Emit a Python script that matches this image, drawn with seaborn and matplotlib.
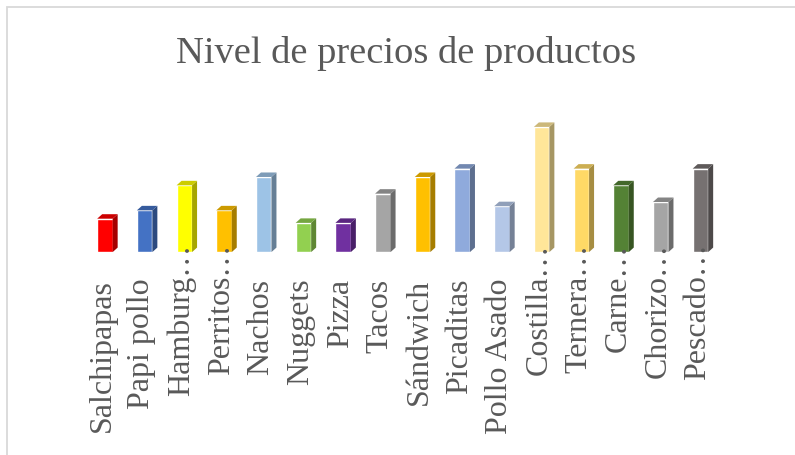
import seaborn as sns
import matplotlib.pyplot as plt
import matplotlib.colors as mcolors
from matplotlib.patches import Polygon, Rectangle

productos = ['Salchipapas', 'Papi pollo', 'Hamburg…', 'Perritos…', 'Nachos',
             'Nuggets', 'Pizza', 'Tacos', 'Sándwich', 'Picaditas', 'Pollo Asado',
             'Costilla…', 'Ternera…', 'Carne…', 'Chorizo…', 'Pescado…']
precios = [4, 5, 8, 5, 9, 3.5, 3.5, 7, 9, 10, 5.5, 15, 10, 8, 6, 10]
colores = ['#FF0000', '#4472C4', '#FFFF00', '#FFC000', '#9DC3E6', '#92D050',
           '#7030A0', '#A5A5A5', '#FFC000', '#8FAADC', '#B4C7E7', '#FFE699',
           '#FFD966', '#548235', '#A5A5A5', '#767171']

sns.set_style("white")
plt.rcParams['font.family'] = ['Liberation Serif', 'DejaVu Serif']

fig = plt.figure(figsize=(7.95, 4.56), dpi=100)
ax = fig.add_axes([0.107, 0.445, 0.799, 0.366])

sns.barplot(x=productos, y=precios, hue=productos, palette=colores,
            legend=False, width=0.39, saturation=1, ax=ax)
ax.set_xlim(-0.5, len(productos) - 0.5)
ax.set_ylim(0, 20)
ax.set_xticks([])
ax.set_yticks([])
ax.set_xlabel('')
ax.set_ylabel('')
sns.despine(ax=ax, left=True, bottom=True)

# efecto 3D: cara lateral y superior
px_x = ax.bbox.width / (len(productos))
px_y = ax.bbox.height / 20
dx = 5 / px_x
dy = 4.5 / px_y
for p, c in zip(list(ax.patches), colores):
    x, w, h = p.get_x(), p.get_width(), p.get_height()
    rgb = mcolors.to_rgb(c)
    lado = tuple(v * 0.65 for v in rgb)
    tapa = tuple(v * 0.8 for v in rgb)
    ax.add_patch(Polygon([(x + w, 0), (x + w + dx, dy), (x + w + dx, h + dy), (x + w, h)],
                         closed=True, fc=lado, ec='none', clip_on=False))
    ax.add_patch(Polygon([(x, h), (x + dx, h + dy), (x + w + dx, h + dy), (x + w, h)],
                         closed=True, fc=tapa, ec='none', clip_on=False))

# etiquetas
for i, nombre in enumerate(productos):
    off = 7 if nombre.endswith('…') else -18.5
    ax.annotate(nombre, xy=(i, 0), xytext=(-2, off), textcoords='offset points',
                rotation=90, ha='center', va='top', fontsize=23, color='#595959',
                annotation_clip=False)

fig.text(0.511, 1 - 63 / 456, 'Nivel de precios de productos', ha='center',
         va='baseline', fontsize=27.7, color='#595959')

fig.patches.append(Rectangle((7 / 795, -0.1), 2, (456 - 8) / 456 + 0.1,
                             transform=fig.transFigure, fill=False,
                             ec='#D9D9D9', lw=1.3))

fig.savefig('out.png', dpi=100)
